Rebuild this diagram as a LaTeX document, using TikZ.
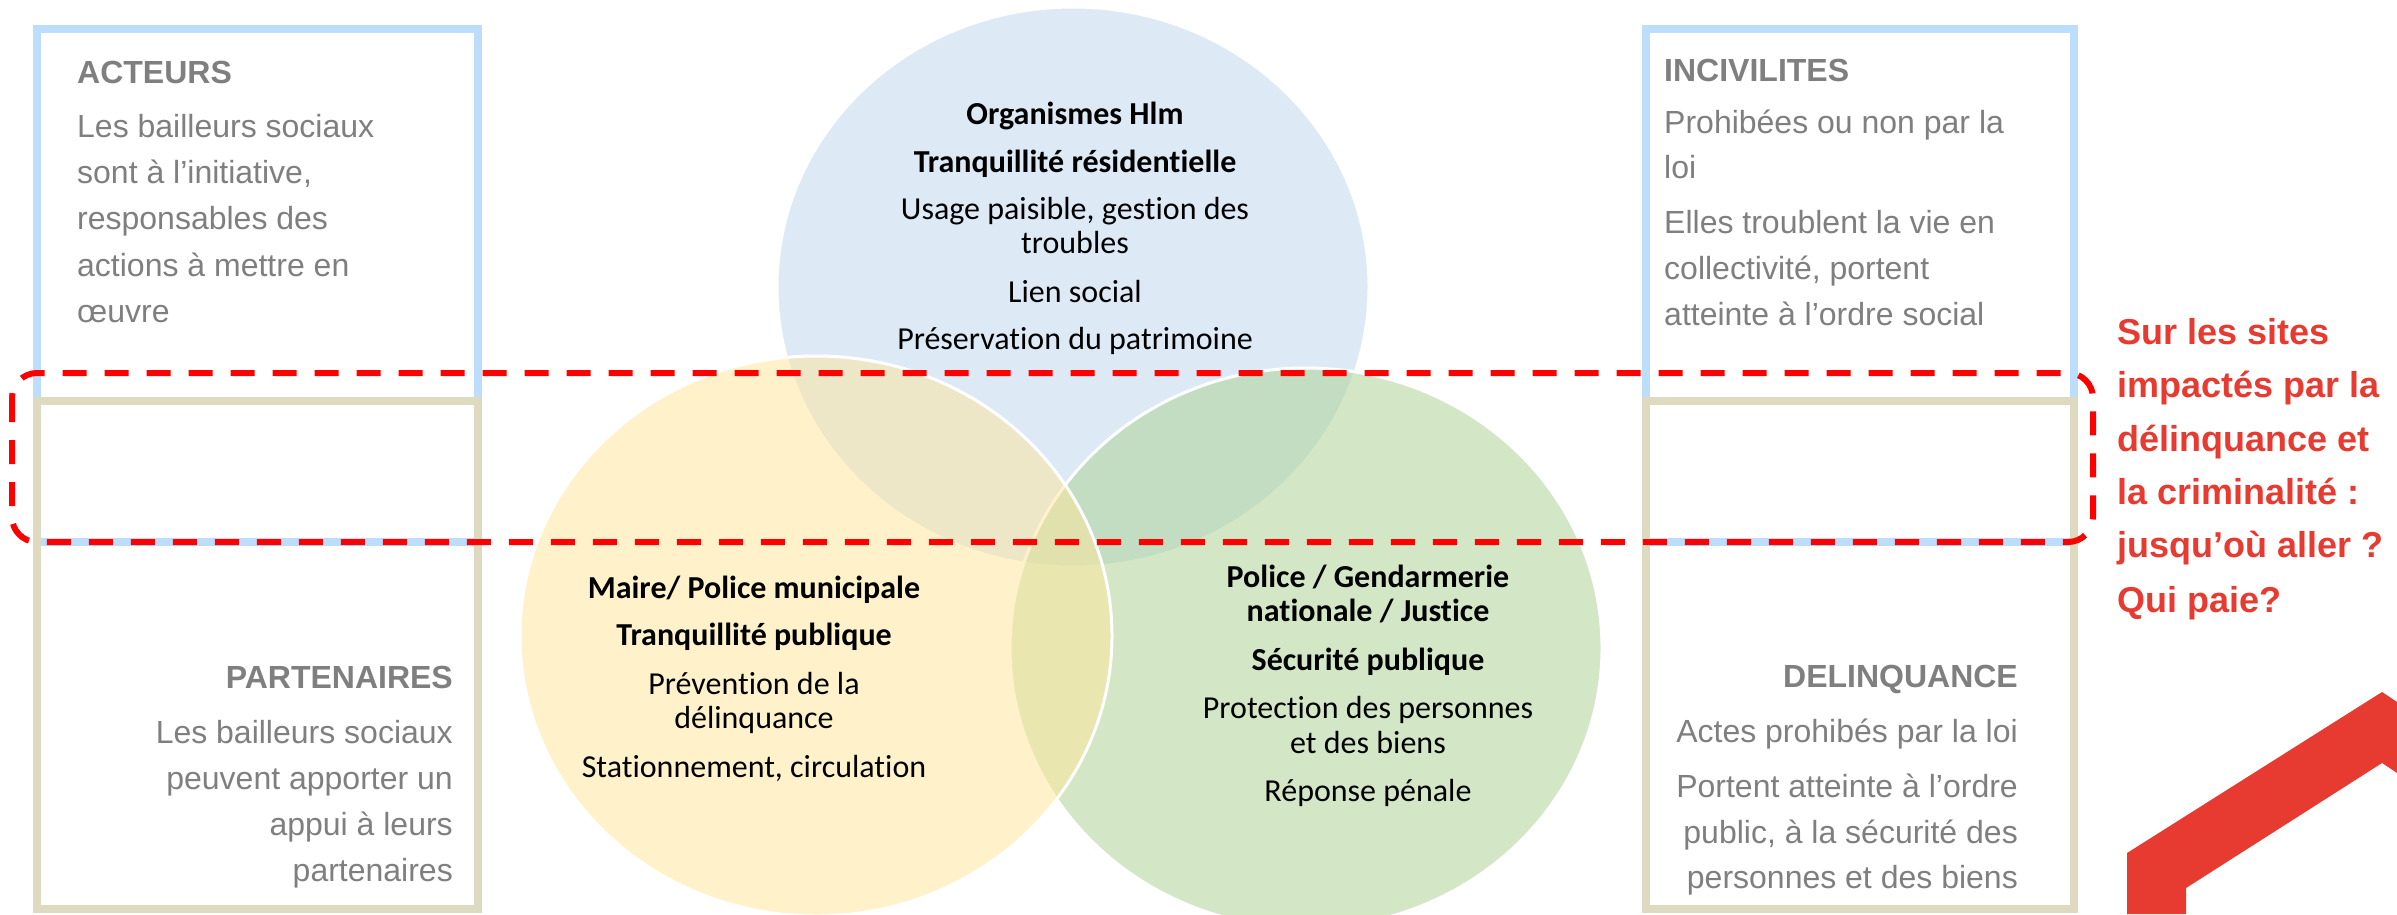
\documentclass[tikz,border=0pt]{standalone}
\usepackage{fontspec}
\setmainfont{Liberation Sans}
\newfontfamily\calib[Ligatures=NoCommon]{Carlito}
\usetikzlibrary{shapes.geometric}
\definecolor{boxblue}{RGB}{189,221,252}
\definecolor{boxtan}{RGB}{222,218,192}
\definecolor{graytxt}{RGB}{127,127,127}
\definecolor{redtxt}{RGB}{231,58,48}
\definecolor{cblue}{RGB}{189,215,238}
\definecolor{cyel}{RGB}{255,230,153}
\definecolor{cgreen}{RGB}{169,209,142}
\begin{document}
\begin{tikzpicture}[x=1pt,y=-1pt,
  bluebox/.style={draw=boxblue,line width=7.5pt},
  tanbox/.style={draw=boxtan,line width=7.5pt},
  gtxt/.style={font=\fontsize{32}{38}\selectfont,text=graytxt,inner sep=0pt},
  gbold/.style={gtxt,font=\fontsize{32}{38}\selectfont\bfseries},
  venn/.style={ellipse,draw=white,line width=3pt,fill opacity=0.5,draw opacity=1,minimum width=592pt,minimum height=560pt,inner sep=0pt},
  ctxt/.style={font=\calib\fontsize{32}{38}\selectfont,text=black,inner sep=0pt,anchor=base},
  cbold/.style={ctxt,font=\calib\fontsize{32}{38}\selectfont\bfseries},
  rtxt/.style={font=\fontsize{36}{42}\selectfont\bfseries,text=redtxt,inner sep=0pt,anchor=base west},
  reddash/.style={draw=red,line width=6pt,dash pattern=on 24pt off 18pt,rounded corners=25pt}
]
\useasboundingbox (0,0) rectangle (2397,914);
\fill[white] (0,0) rectangle (2397,914);

% boxes
\draw[bluebox] (37,29) rectangle (478,542);
\draw[tanbox] (37,401) rectangle (478,909);
\draw[bluebox] (1646,29) rectangle (2074,542);
\draw[tanbox] (1646,401) rectangle (2074,909);

% Venn circles
\node[venn,fill=cblue] (cb) at (1073,287) {};
\node[venn,fill=cgreen] (cg) at (1306,648) {};
\node[venn,fill=cyel] (cy) at (816,636) {};

% dashed frame
\draw[reddash] (12,373) rectangle (2093,542);

% left top box text
\node[gbold,anchor=base west] (a0) at (77,83) {ACTEURS};
\node[gtxt,anchor=base west] (a1) at (77,137) {Les bailleurs sociaux};
\node[gtxt,anchor=base west] (a2) at (77,183) {sont à l’initiative,};
\node[gtxt,anchor=base west] (a3) at (77,229) {responsables des};
\node[gtxt,anchor=base west] (a4) at (77,276) {actions à mettre en};
\node[gtxt,anchor=base west] (a5) at (77,322) {œuvre};

% left bottom box text
\node[gbold,anchor=base east] (p0) at (453,688) {PARTENAIRES};
\node[gtxt,anchor=base east] (p1) at (453,743) {Les bailleurs sociaux};
\node[gtxt,anchor=base east] (p2) at (453,789) {peuvent apporter un};
\node[gtxt,anchor=base east] (p3) at (453,835) {appui à leurs};
\node[gtxt,anchor=base east] (p4) at (453,881) {partenaires};

% right top box text
\node[gbold,anchor=base west] (i0) at (1664,81) {INCIVILITES};
\node[gtxt,anchor=base west] (i1) at (1664,133) {Prohibées ou non par la};
\node[gtxt,anchor=base west] (i2) at (1664,178) {loi};
\node[gtxt,anchor=base west] (i3) at (1664,233) {Elles troublent la vie en};
\node[gtxt,anchor=base west] (i4) at (1664,279) {collectivité, portent};
\node[gtxt,anchor=base west] (i5) at (1664,325) {atteinte à l’ordre social};

% right bottom box text
\node[gbold,anchor=base east] (d0) at (2018,687) {DELINQUANCE};
\node[gtxt,anchor=base east] (d1) at (2018,742) {Actes prohibés par la loi};
\node[gtxt,anchor=base east] (d2) at (2018,797) {Portent atteinte à l’ordre};
\node[gtxt,anchor=base east] (d3) at (2018,843) {public, à la sécurité des};
\node[gtxt,anchor=base east] (d4) at (2018,888) {personnes et des biens};

% blue circle text
\node[cbold] (b0) at (1075,124) {Organismes Hlm};
\node[cbold] (b1) at (1075,172) {Tranquillité résidentielle};
\node[ctxt] (b2) at (1075,219) {Usage paisible, gestion des};
\node[ctxt] (b3) at (1075,253) {troubles};
\node[ctxt] (b4) at (1075,302) {Lien social};
\node[ctxt] (b5) at (1075,349) {Préservation du patrimoine};

% yellow circle text
\node[cbold] (y0) at (754,598) {Maire/ Police municipale};
\node[cbold] (y1) at (754,645) {Tranquillité publique};
\node[ctxt] (y2) at (754,694) {Prévention de la};
\node[ctxt] (y3) at (754,728) {délinquance};
\node[ctxt] (y4) at (754,777) {Stationnement, circulation};

% green circle text
\node[cbold] (g0) at (1368,587) {Police / Gendarmerie};
\node[cbold] (g1) at (1368,621) {nationale / Justice};
\node[cbold] (g2) at (1368,670) {Sécurité publique};
\node[ctxt] (g3) at (1368,718) {Protection des personnes};
\node[ctxt] (g4) at (1368,753) {et des biens};
\node[ctxt] (g5) at (1368,801) {Réponse pénale};

% red question
\node[rtxt] (q0) at (2117,344) {Sur les sites};
\node[rtxt] (q1) at (2117,397) {impactés par la};
\node[rtxt] (q2) at (2117,451) {délinquance et};
\node[rtxt] (q3) at (2117,504) {la criminalité :};
\node[rtxt] (q4) at (2117,557) {jusqu’où aller ?};
\node[rtxt] (q5) at (2117,612) {Qui paie?};

% red roof shape
\fill[redtxt] (2127,914) -- (2127,853) -- (2382,692) -- (2397,702) -- (2397,773) -- (2382,763) -- (2186,888) -- (2186,914) -- cycle;
\end{tikzpicture}
\end{document}
